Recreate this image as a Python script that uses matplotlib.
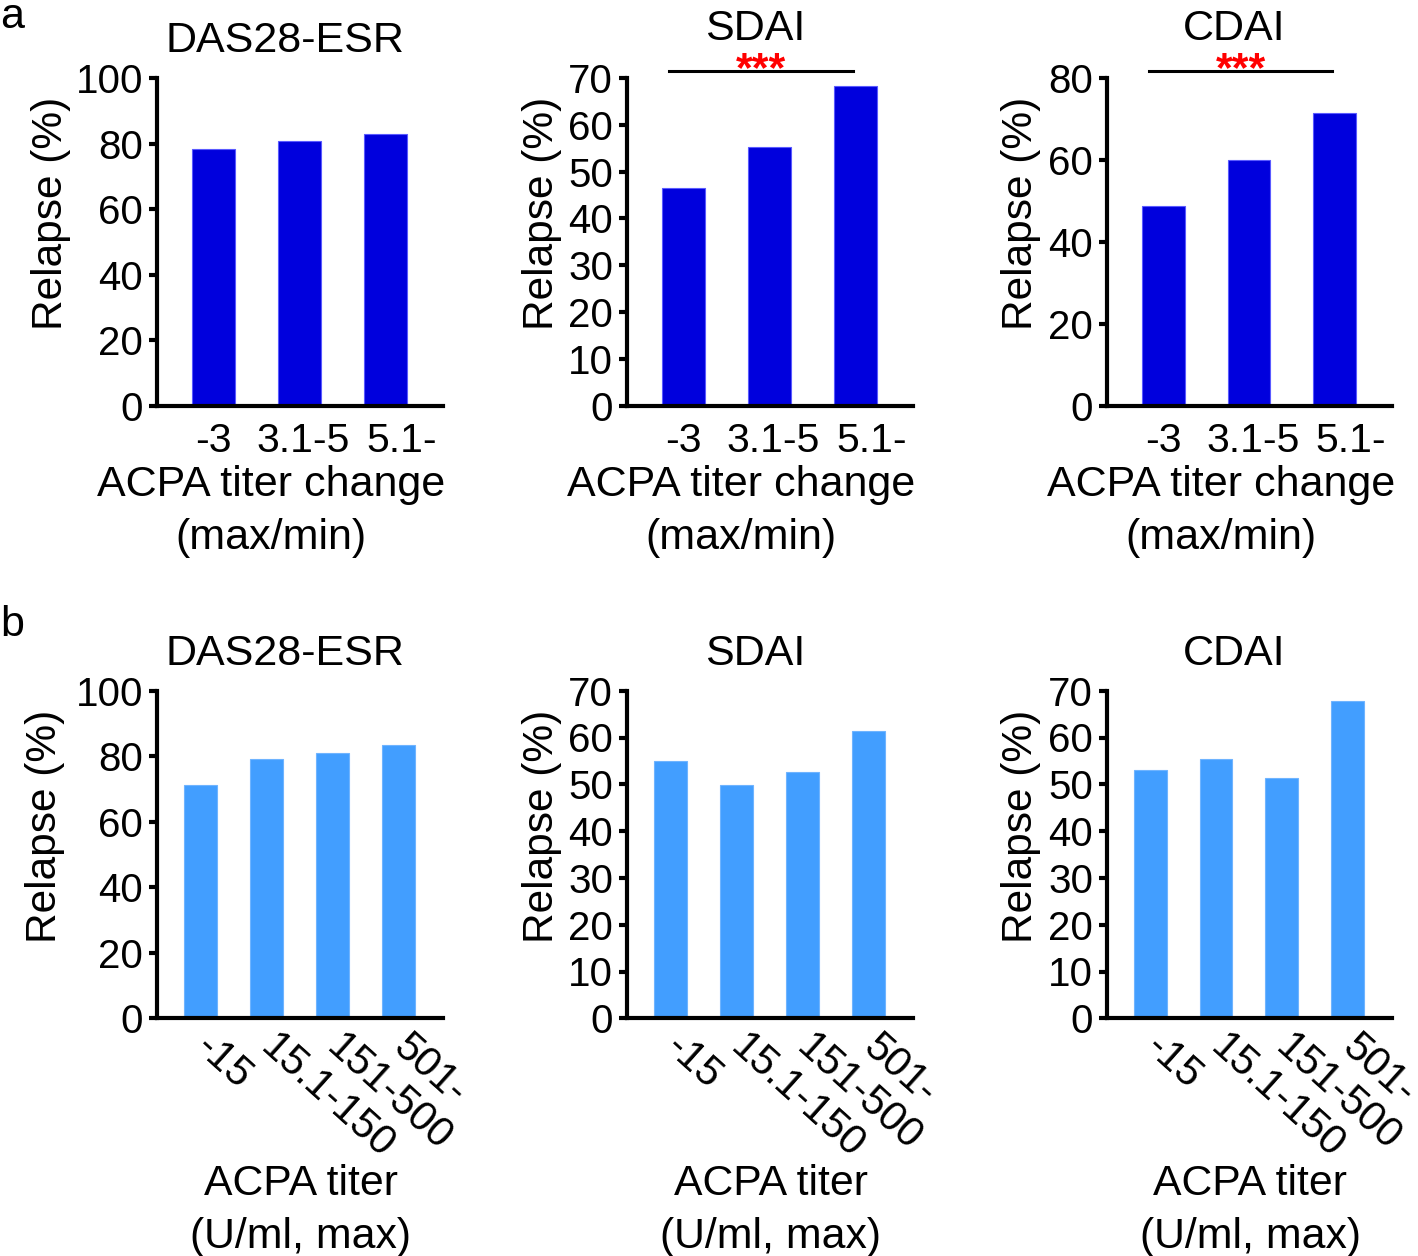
import matplotlib
matplotlib.use("Agg")
import matplotlib.pyplot as plt
from matplotlib.transforms import ScaledTranslation

plt.rcParams['font.family'] = ['Liberation Sans', 'DejaVu Sans']

#++++++++++++++++++++++++++++++++++++++++++++++
# Data (relapse rate in %)
#++++++++++++++++++++++++++++++++++++++++++++++
change_groups = ["-3", "3.1-5", "5.1-"]
das28_change = [78.4, 80.7, 83.0]
sdai_change = [46.4, 55.2, 68.2]
cdai_change = [48.8, 59.9, 71.4]

titer_groups = ["-15", "15.1-150", "151-500", "501-"]
das28_titer = [71.3, 79.1, 81.0, 83.3]
sdai_titer = [54.9, 49.8, 52.6, 61.4]
cdai_titer = [53.0, 55.4, 51.3, 67.7]

titles = ["DAS28-ESR", "SDAI", "CDAI"]
ymax_a = [100, 70, 80]
ystep_a = [20, 10, 20]
ymax_b = [100, 70, 70]
ystep_b = [20, 10, 10]
significant_a = [False, True, True]

dark_blue = "#0000dd"
light_blue = "#429eff"

W, H = 1418, 1256
fig = plt.figure(figsize=(W / 100, H / 100), dpi=100)


def px_axes(left, top, right, bottom):
    return fig.add_axes([left / W, 1 - bottom / H, (right - left) / W, (bottom - top) / H])


def style_axes(ax, ymax, ystep, ylabel_x):
    for s in ["top", "right"]:
        ax.spines[s].set_visible(False)
    for s in ["left", "bottom"]:
        ax.spines[s].set_linewidth(3)
    ax.set_ylim(0, ymax)
    ax.set_yticks(range(0, ymax + 1, ystep))
    ax.tick_params(axis="y", labelsize=29, width=3, length=6, pad=4)
    ax.tick_params(axis="x", length=0, labelsize=29.5)
    ax.set_ylabel("Relapse (%)", fontsize=30.5)
    ax.yaxis.set_label_coords(ylabel_x, 0.586)


lefts = [157, 627, 1107]
rights = [443, 913, 1392]
ylabel_a = [-0.30, -0.228, -0.232]
ylabel_b = [-0.32, -0.228, -0.232]
# small horizontal nudges (pixels) of the row-a tick labels
tick_nudge_a = [0, 4, 16]

# row a
for i, vals in enumerate([das28_change, sdai_change, cdai_change]):
    ax = px_axes(lefts[i], 78, rights[i], 405.7)
    x = list(range(len(change_groups)))
    ax.bar(x, vals, width=0.5, color=dark_blue, edgecolor="#5a5aff", linewidth=0.8)
    ax.set_xlim(-0.66, 2.67)
    style_axes(ax, ymax_a[i], ystep_a[i], ylabel_a[i])
    ax.set_xticks(x)
    ax.set_xticklabels(change_groups)
    ax.tick_params(axis="x", pad=12)
    for lab, dx in zip(ax.get_xticklabels(), tick_nudge_a):
        lab.set_transform(lab.get_transform() + ScaledTranslation(dx / 100, 0, fig.dpi_scale_trans))
    ax.set_xlabel("ACPA titer change\n(max/min)", fontsize=31, linespacing=1.42)
    ax.xaxis.set_label_coords(0.40, -0.18)
    title_y = 1.116 if significant_a[i] else 1.079
    ax.text(0.447, title_y, titles[i], transform=ax.transAxes, ha="center",
            va="baseline", fontsize=31)
    if significant_a[i]:
        tr = ax.get_xaxis_transform()
        ax.plot([-0.17, 1.97], [1.021, 1.021], color="black", lw=2.2,
                transform=tr, clip_on=False)
        ax.text(0.9, 0.99, "***", transform=tr, ha="center", va="baseline",
                color="red", fontsize=31, fontweight="bold")

# row b
for i, vals in enumerate([das28_titer, sdai_titer, cdai_titer]):
    ax = px_axes(lefts[i], 690.7, rights[i], 1018.3)
    x = list(range(len(titer_groups)))
    ax.bar(x, vals, width=0.5, color=light_blue, edgecolor="#6fb4ff", linewidth=0.8)
    ax.set_xlim(-0.66, 3.68)
    style_axes(ax, ymax_b[i], ystep_b[i], ylabel_b[i])
    ax.set_xticks(x)
    ax.set_xticklabels(titer_groups, rotation=-42, ha="left", va="center",
                       rotation_mode="anchor", fontsize=30)
    ax.tick_params(axis="x", pad=17)
    ax.set_xlabel("ACPA titer\n(U/ml, max)", fontsize=30.8, linespacing=1.42)
    ax.xaxis.set_label_coords(0.503, -0.445)
    ax.text(0.447, 1.078, titles[i], transform=ax.transAxes, ha="center",
            va="baseline", fontsize=31)

fig.text(0.0, 1 - 28 / H, "a", fontsize=31, va="baseline")
fig.text(0.0, 1 - 636 / H, "b", fontsize=31, va="baseline")

fig.savefig("out.png", dpi=100)
